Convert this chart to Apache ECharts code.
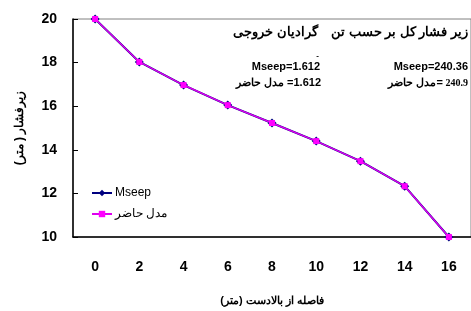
<!DOCTYPE html>
<html>
<head>
<meta charset="utf-8">
<script src="https://cdn.jsdelivr.net/npm/echarts@6/dist/echarts.min.js"></script>
<style>
html, body { margin: 0; padding: 0; background: #fff; }
#chart { width: 471px; height: 311px; }
</style>
</head>
<body>
<div id="chart"></div>
<script>
// فاصله از بالادست (متر)
var distance = ['0', '2', '4', '6', '8', '10', '12', '14', '16'];
// زیرفشار - Mseep
var mseep = [20, 18.03, 16.97, 16.05, 15.23, 14.4, 13.48, 12.33, 10];
// زیرفشار - مدل حاضر
var model = [20, 18.03, 16.97, 16.05, 15.23, 14.4, 13.48, 12.33, 10];
var yTicks = { min: 10, max: 20, interval: 2 };

var font = 'Liberation Sans, Arial, sans-serif';

function txt(x, y, s, align, f){
    return { type: 'text', x: x, y: y,
        style: { text: s, font: f, fill: '#000', align: align, verticalAlign: 'middle' } };
}

function show_chart(myChart){
    var bold11 = 'bold 11px ' + font;
    var option = {
        animation: false,
        textStyle: { fontFamily: font },
        grid: {
            left: 73, top: 19, width: 407, height: 218,
            show: true, borderColor: '#808080', borderWidth: 1
        },
        legend: {
            orient: 'vertical',
            left: 86, top: 182,
            itemGap: 9,
            itemWidth: 20, itemHeight: 8,
            textStyle: { fontSize: 12, color: '#000', fontFamily: font, padding: [0, 0, 0, -2] },
            data: ['Mseep', 'مدل حاضر']
        },
        xAxis: {
            type: 'category',
            data: distance,
            boundaryGap: true,
            name: 'فاصله از بالادست (متر)',
            nameLocation: 'middle',
            nameGap: 58,
            nameTextStyle: { fontSize: 11, fontWeight: 'bold', color: '#000' },
            axisLine: { lineStyle: { color: '#000', width: 1.5 } },
            axisTick: { inside: true, length: 5, lineStyle: { color: '#000' } },
            axisLabel: { fontSize: 14, fontWeight: 'bold', color: '#000', margin: 23 },
            splitLine: { show: false }
        },
        yAxis: {
            type: 'value',
            min: yTicks.min, max: yTicks.max, interval: yTicks.interval,
            name: '(زیرفشار ( متر',
            nameLocation: 'middle',
            nameRotate: 90,
            nameGap: 47,
            nameTextStyle: { fontSize: 12, fontWeight: 'bold', color: '#000' },
            axisLine: { show: true, lineStyle: { color: '#000', width: 1.5 } },
            axisTick: { show: true, inside: true, length: 5, lineStyle: { color: '#000' } },
            axisLabel: { fontSize: 14, fontWeight: 'bold', color: '#000', margin: 16 },
            splitLine: { show: false }
        },
        graphic: [
            txt(468, 32, 'زیر فشار کل بر حسب تن', 'right', 'bold 13px ' + font),
            txt(318, 32, 'گرادیان خروجی', 'right', 'bold 13px ' + font),
            txt(319, 56, '-', 'right', 'bold 8px ' + font),
            txt(320, 67, 'Mseep=1.612', 'right', bold11),
            txt(321, 83, '=1.612', 'right', bold11),
            txt(284, 83, 'مدل حاضر', 'right', bold11),
            txt(468, 67, 'Mseep=240.36', 'right', bold11),
            txt(468, 83, '240.9', 'right', 'bold 10px Liberation Serif, Times New Roman, serif'),
            txt(443, 83, '=', 'right', bold11),
            txt(436, 83, 'مدل حاضر', 'right', bold11)
        ],
        series: [{
            name: 'Mseep',
            type: 'line',
            data: mseep,
            symbol: 'diamond',
            symbolSize: 9,
            itemStyle: { color: '#000080' },
            lineStyle: { color: '#000080', width: 2 },
            z: 2
        }, {
            name: 'مدل حاضر',
            type: 'line',
            data: model,
            symbol: 'rect',
            symbolSize: 6,
            itemStyle: { color: '#ff00ff' },
            lineStyle: { color: '#dd00ee', width: 1.5 },
            z: 3
        }]
    };
    myChart.setOption(option);
}

var myChart = echarts.init(document.getElementById('chart'));
show_chart(myChart);
</script>
</body>
</html>
